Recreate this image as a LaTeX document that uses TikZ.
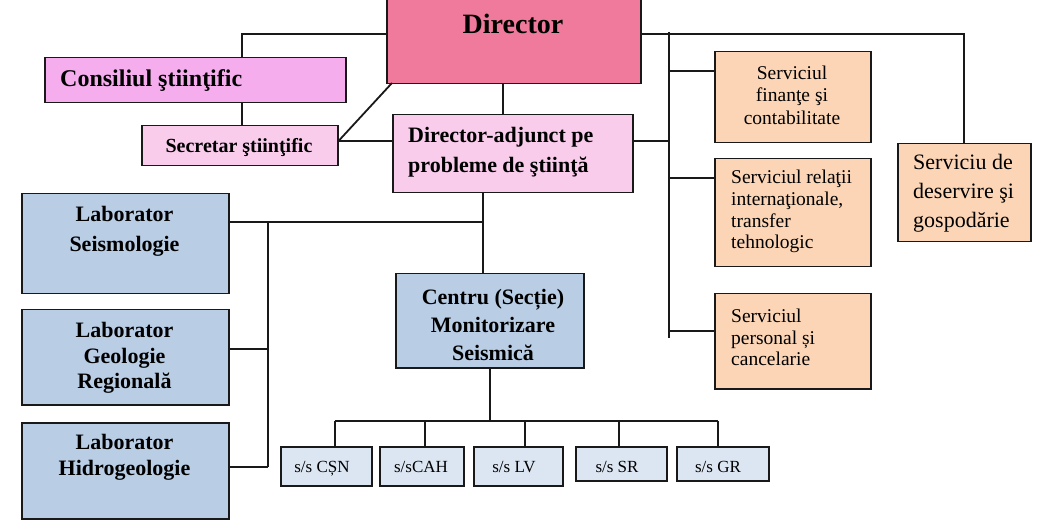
\documentclass[tikz,border=0pt]{standalone}
\usepackage{fontspec}
\setmainfont{Liberation Serif}
\definecolor{cDir}{RGB}{240,122,155}
\definecolor{cCons}{RGB}{245,173,238}
\definecolor{cSec}{RGB}{249,204,236}
\definecolor{cLab}{RGB}{185,205,229}
\definecolor{cSub}{RGB}{220,230,242}
\definecolor{cSrv}{RGB}{251,213,181}
\definecolor{cLine}{RGB}{25,25,25}
\tikzset{
  box/.style={draw=cLine, line width=1.5pt, inner sep=0pt, anchor=north west},
  conn/.style={draw=cLine, line width=1.8pt},
  txt/.style={inner sep=0pt, text=black},
}
\newcommand{\fs}[2]{\fontsize{#1}{#2}\selectfont}
\begin{document}
\begin{tikzpicture}[x=1pt,y=-1pt]
\useasboundingbox (0,0) rectangle (1041,526);
% boxes
\node[box, fill=cDir, minimum width=254, minimum height=88] (dir) at (386,-5) {};
\node[box, fill=cCons, minimum width=301, minimum height=45] (cons) at (44,57) {};
\node[box, fill=cSec, minimum width=196, minimum height=40] (sec) at (141,125) {};
\node[box, fill=cSec, minimum width=240, minimum height=78] (adj) at (392,114) {};
\node[box, fill=cSrv, minimum width=156, minimum height=91] (fin) at (714,51) {};
\node[box, fill=cSrv, minimum width=156, minimum height=108] (rel) at (714,158) {};
\node[box, fill=cSrv, minimum width=156, minimum height=95] (pers) at (714,293) {};
\node[box, fill=cSrv, minimum width=133, minimum height=98] (deserv) at (897,143) {};
\node[box, fill=cLab, minimum width=207, minimum height=100] (labS) at (21,193) {};
\node[box, fill=cLab, minimum width=207, minimum height=95] (labG) at (21,309) {};
\node[box, fill=cLab, minimum width=207, minimum height=96] (labH) at (21,422) {};
\node[box, fill=cLab, minimum width=188, minimum height=94] (centru) at (395,273) {};
\node[box, fill=cSub, minimum width=91, minimum height=39] (csn) at (280,446) {};
\node[box, fill=cSub, minimum width=84, minimum height=39] (cah) at (379,446) {};
\node[box, fill=cSub, minimum width=89, minimum height=39] (lv) at (473,446) {};
\node[box, fill=cSub, minimum width=91, minimum height=34] (sr) at (575,446) {};
\node[box, fill=cSub, minimum width=92, minimum height=34] (gr) at (676,446) {};
% texts
\node[txt, anchor=base, font=\fs{28}{32}\bfseries] (tDir) at (513,34) {Director};
\node[txt, anchor=base west, font=\fs{24}{28}\bfseries] (tCons) at (60,87) {Consiliul ştiinţific};
\node[txt, anchor=base, font=\fs{20}{24}\bfseries] (tSec) at (239,153) {Secretar ştiinţific};
\node[txt, anchor=west, align=left, font=\fs{22}{30}\bfseries] (tAdj) at (408,152.5) {Director-adjunct pe\\ probleme de ştiinţă};
\node[txt, align=center, font=\fs{22}{30}\bfseries] (tLabS) at (124.5,231.5) {Laborator\\ Seismologie};
\node[txt, align=center, font=\fs{22}{25.5}\bfseries] (tLabG) at (124.5,358) {Laborator\\ Geologie\\ Regională};
\node[txt, align=center, font=\fs{22}{26}\bfseries] (tLabH) at (124.5,457.5) {Laborator\\ Hidrogeologie};
\node[txt, align=center, font=\fs{22}{28}\bfseries] (tCen) at (493,324.5) {Centru (Secție)\\ Monitorizare\\ Seismică};
\node[txt, align=center, font=\fs{19.5}{22.5}] (tFin) at (792,95) {Serviciul\\ finanţe şi\\ contabilitate};
\node[txt, anchor=west, align=left, font=\fs{19.5}{21.7}] (tRel) at (731,211.5) {Serviciul relaţii\\ internaţionale,\\ transfer\\ tehnologic};
\node[txt, anchor=west, align=left, font=\fs{19.5}{21.5}] (tPers) at (731,337.5) {Serviciul\\ personal și\\ cancelarie};
\node[txt, anchor=west, align=left, font=\fs{22}{29}] (tDes) at (913,193.5) {Serviciu de\\ deservire şi\\ gospodărie};
\node[txt, anchor=base, font=\fs{17}{20}] (tCsn) at (322,472) {s/s CȘN};
\node[txt, anchor=base, font=\fs{17}{20}] (tCah) at (421,472) {s/sCAH};
\node[txt, anchor=base, font=\fs{17}{20}] (tLv) at (514,472) {s/s LV};
\node[txt, anchor=base, font=\fs{17}{20}] (tSr) at (617,472) {s/s SR};
\node[txt, anchor=base, font=\fs{17}{20}] (tGr) at (718,472) {s/s GR};
% helper coordinates
\coordinate (hDir) at (0,34);
\coordinate (kCons) at (242,34);
\coordinate (hSec) at (0,141);
\coordinate (dDiag) at (392,83);
\coordinate (c503) at (503,0);
\coordinate (trT) at (669,32);
\coordinate (trB) at (669,338);
\coordinate (bF) at (0,71);
\coordinate (bR) at (0,178);
\coordinate (bP) at (0,331);
\coordinate (c483) at (483,0);
\coordinate (hLab) at (0,222);
\coordinate (lbT) at (268,222);
\coordinate (lbB) at (268,467);
\coordinate (hG) at (0,349);
\coordinate (hBus) at (0,421);
\coordinate (bsL) at (335,421);
\coordinate (bsR) at (718,421);
\coordinate (x425) at (425,0);
\coordinate (x525) at (525,0);
\coordinate (x619) at (619,0);
% connectors
\draw[conn] (dir.west |- hDir) -- (kCons) -- (cons.north -| kCons);
\draw[conn] (cons.south -| kCons) -- (sec.north -| kCons);
\draw[conn] (sec.east |- hSec) -- (adj.west |- hSec);
\draw[conn] (sec.east |- hSec) -- (dDiag);
\draw[conn] (dir.south -| c503) -- (adj.north -| c503);
\draw[conn] (dir.east |- hDir) -| (deserv.north);
\draw[conn] (trT) -- (trB);
\draw[conn] (adj.east |- hSec) -- (trT |- hSec);
\draw[conn] (trT |- bF) -- (fin.west |- bF);
\draw[conn] (trT |- bR) -- (rel.west |- bR);
\draw[conn] (trT |- bP) -- (pers.west |- bP);
\draw[conn] (adj.south -| c483) -- (centru.north -| c483);
\draw[conn] (labS.east |- hLab) -- (c483 |- hLab);
\draw[conn] (lbT) -- (lbB);
\draw[conn] (labG.east |- hG) -- (lbT |- hG);
\draw[conn] (labH.east |- lbB) -- (lbB);
\draw[conn] (centru.south) -- (centru.south |- hBus);
\draw[conn] (bsL) -- (bsR);
\draw[conn] (bsL) -- (csn.north -| bsL);
\draw[conn] (x425 |- hBus) -- (cah.north -| x425);
\draw[conn] (x525 |- hBus) -- (lv.north -| x525);
\draw[conn] (x619 |- hBus) -- (sr.north -| x619);
\draw[conn] (bsR) -- (gr.north -| bsR);
\end{tikzpicture}
\end{document}
